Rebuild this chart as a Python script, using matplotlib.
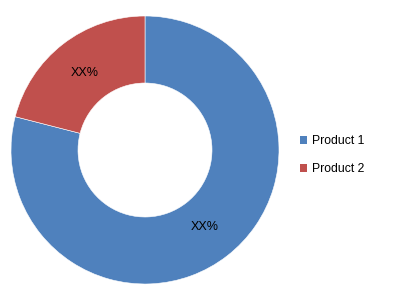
import matplotlib.pyplot as plt
from matplotlib.patches import Patch

products = ['Product 1', 'Product 2']
shares = [79, 21]
colors = ['#4F81BD', '#C0504D']

plt.rcParams['font.family'] = ['Liberation Sans', 'DejaVu Sans']

fig = plt.figure(figsize=(3.99, 3.05), dpi=100)
# pie centre ~ (145, 150) px, radius ~134 px
cx, cy, r = 145, 150, 134
ax = fig.add_axes([(cx - r) / 399, (305 - cy - r) / 305, 2 * r / 399, 2 * r / 305])

wedges, texts, autotexts = ax.pie(
    shares, colors=colors, startangle=90, counterclock=False,
    radius=1.0, autopct=lambda p: 'XX%', pctdistance=0.73,
    wedgeprops=dict(width=0.5, edgecolor='white', linewidth=0.4),
    textprops=dict(fontsize=9, color='black'))
ax.set_xlim(-1, 1)
ax.set_ylim(-1, 1)
ax.set_aspect('equal')
ax.axis('off')

handles = [Patch(facecolor=c, edgecolor='none') for c in colors]
fig.legend(handles, products, loc='center left', bbox_to_anchor=(289 / 399, 1 - 155 / 305),
           frameon=False, fontsize=8.8, handlelength=0.6, handleheight=0.6,
           handletextpad=0.4, labelspacing=1.3)

fig.savefig('out.png', dpi=100)
